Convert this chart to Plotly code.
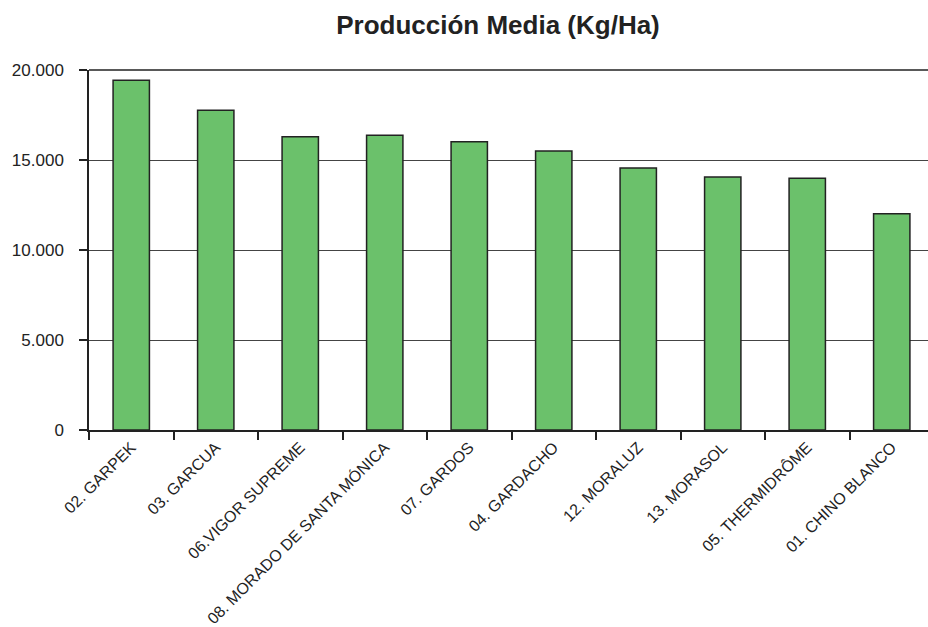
import plotly.graph_objects as go

# Variedades y producción media (Kg/Ha)
variedades = [
    "02. GARPEK", "03. GARCUA", "06.VIGOR SUPREME", "08. MORADO DE SANTA MÓNICA",
    "07. GARDOS", "04. GARDACHO", "12. MORALUZ", "13. MORASOL",
    "05. THERMIDRÔME", "01. CHINO BLANCO",
]
produccion = [19430, 17760, 16290, 16370, 16020, 15500, 14560, 14060, 13980, 12020]

y_ticks = [0, 5000, 10000, 15000, 20000]

W, H = 934, 627

fig = go.Figure(
    go.Bar(
        x=variedades,
        y=produccion,
        width=0.43,
        marker=dict(color="#6BC16B", line=dict(color="#222222", width=1.5)),
    )
)

fig.update_layout(
    title=dict(
        text="<b>Producción Media (Kg/Ha)</b>",
        x=498 / W, xanchor="center", y=1 - 25 / H, yanchor="middle",
        font=dict(family="Liberation Sans, Arial", size=26, color="#222222"),
    ),
    width=W, height=H,
    margin=dict(l=89, r=0, t=70, b=197),
    plot_bgcolor="white", paper_bgcolor="white",
    font=dict(family="Liberation Sans, Arial", color="#222222"),
    separators=",.",
    showlegend=False,
    bargap=0.57,
)

fig.update_yaxes(
    range=[0, 20000], tickvals=y_ticks, tickformat=",d",
    showgrid=True, gridcolor="#444444", gridwidth=1,
    showline=True, linecolor="#222222", linewidth=1.5,
    ticks="outside", ticklen=8, tickcolor="#222222", tickwidth=1.5,
    ticklabelstandoff=12,
    tickfont=dict(size=17), zeroline=False, automargin=False,
)
fig.update_xaxes(
    showline=True, linecolor="#222222", linewidth=1.5,
    ticks="outside", ticklen=8, tickcolor="#222222", tickwidth=1.5,
    tickson="boundaries", tickangle=-45, tickfont=dict(size=16),
    automargin=False,
)
# línea superior del área de trazado
fig.add_shape(type="line", xref="paper", yref="paper", x0=0, x1=1, y0=1, y1=1,
              line=dict(color="#222222", width=1.5))

# sin margen del cuerpo ni barras de desplazamiento
fig.write_html(
    "out.html",
    config={"displayModeBar": False},
    post_script="document.body.style.margin='0';"
                "document.documentElement.style.overflow='hidden';",
)
